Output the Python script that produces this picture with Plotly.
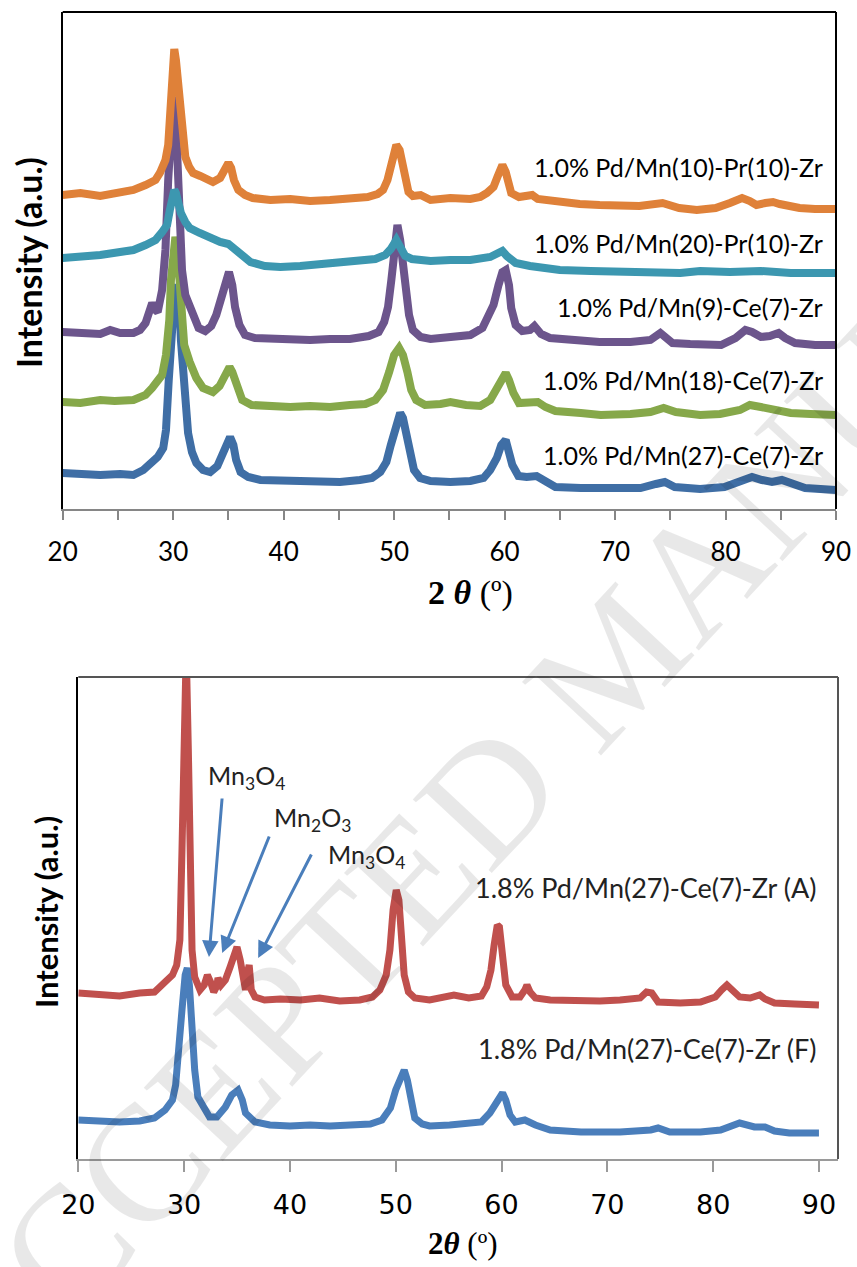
import plotly.graph_objects as go

W, H = 857, 1267

# ---------------- top panel data (2θ, stacked intensity a.u.) ----------------
orange_x = [20.0, 21.6, 23.4, 25.2, 26.4, 27.5, 28.4, 28.8, 29.3, 29.55, 29.8, 30.0, 30.1, 30.25, 30.45, 30.6, 30.8, 31.1, 31.45, 31.8, 32.45, 33.1, 33.6, 34.25, 34.6, 35.0, 35.25, 35.5, 35.9, 36.5, 37.2, 38.8, 40.6, 42.4, 44.2, 46.0, 47.6, 48.5, 49.0, 49.4, 49.65, 49.9, 50.2, 50.5, 50.75, 51.0, 51.3, 51.7, 52.4, 53.3, 55.1, 56.9, 57.8, 58.4, 59.0, 59.35, 59.6, 59.8, 60.1, 60.35, 60.6, 61.3, 61.9, 62.5, 63.0, 63.7, 64.7, 66.8, 68.6, 70.4, 72.2, 74.3, 75.8, 77.4, 79.1, 80.4, 81.5, 82.2, 82.8, 83.6, 84.3, 84.9, 85.8, 86.7, 88.1, 90.0]
orange_y = [628, 632, 626, 634, 638, 648, 658, 672, 698, 728, 818, 898, 920, 898, 848, 798, 738, 704, 684, 672, 666, 658, 654, 662, 678, 692, 682, 658, 638, 628, 622, 618, 620, 616, 618, 620, 624, 630, 638, 658, 684, 714, 728, 718, 694, 658, 634, 626, 628, 618, 622, 620, 624, 632, 644, 664, 682, 688, 674, 648, 632, 624, 624, 628, 620, 618, 614, 610, 608, 606, 606, 612, 602, 598, 602, 612, 622, 616, 608, 612, 614, 610, 604, 602, 600, 600]

teal_x = [20.0, 21.6, 23.4, 25.2, 26.4, 27.5, 28.4, 29.0, 29.45, 29.7, 29.9, 30.1, 30.25, 30.45, 30.7, 31.1, 31.5, 32.4, 33.35, 34.25, 35.0, 35.45, 36.1, 37.0, 38.3, 39.7, 41.5, 43.3, 45.1, 46.9, 48.3, 49.2, 49.7, 50.2, 50.55, 51.0, 51.6, 53.3, 55.1, 56.9, 58.7, 59.35, 59.8, 60.2, 61.0, 62.3, 63.7, 65.0, 67.8, 70.5, 73.2, 75.9, 77.7, 80.4, 83.2, 85.9, 90.0]
teal_y = [502, 504, 508, 514, 518, 528, 538, 554, 568, 598, 628, 638, 632, 608, 592, 574, 562, 552, 542, 534, 530, 522, 506, 494, 486, 484, 486, 490, 492, 496, 500, 508, 520, 538, 526, 506, 500, 496, 498, 498, 504, 510, 516, 506, 492, 486, 482, 478, 476, 474, 472, 472, 476, 474, 476, 472, 472]

purple_x = [20.0, 21.6, 23.4, 24.3, 25.2, 26.4, 27.0, 27.5, 27.8, 28.1, 28.4, 28.6, 29.0, 29.3, 29.55, 29.8, 30.0, 30.2, 30.35, 30.55, 30.8, 31.1, 31.45, 31.8, 32.3, 32.9, 33.45, 33.9, 34.35, 34.7, 35.05, 35.35, 35.6, 36.0, 36.5, 37.4, 38.8, 40.6, 42.4, 44.2, 46.0, 47.7, 48.6, 49.1, 49.45, 49.75, 50.0, 50.3, 50.55, 50.8, 51.1, 51.35, 51.7, 52.4, 53.3, 55.1, 56.9, 58.0, 58.5, 59.0, 59.45, 59.8, 60.1, 60.4, 60.6, 61.0, 61.6, 62.3, 62.7, 63.3, 64.1, 65.9, 68.6, 71.4, 73.2, 74.1, 74.7, 75.2, 76.8, 79.6, 80.9, 81.8, 82.4, 83.2, 84.0, 84.8, 85.4, 86.3, 88.1, 90.0]
purple_y = [354, 352, 350, 358, 352, 352, 358, 372, 398, 412, 398, 394, 438, 518, 658, 778, 824, 798, 698, 578, 478, 428, 408, 388, 362, 356, 366, 388, 418, 448, 474, 448, 404, 368, 348, 342, 340, 338, 338, 340, 340, 346, 354, 374, 404, 458, 528, 568, 538, 478, 428, 388, 358, 344, 340, 344, 348, 362, 382, 408, 448, 474, 478, 448, 402, 368, 356, 358, 366, 350, 342, 338, 334, 334, 338, 352, 342, 332, 330, 328, 342, 358, 354, 344, 346, 352, 342, 332, 328, 328]

green_x = [20.0, 21.6, 23.4, 24.7, 26.4, 27.5, 28.1, 28.6, 29.0, 29.35, 29.65, 29.8, 30.0, 30.2, 30.35, 30.55, 30.7, 31.0, 31.5, 32.1, 32.7, 33.6, 34.2, 34.6, 35.1, 35.35, 35.7, 36.25, 37.1, 38.8, 40.6, 42.4, 44.2, 46.0, 47.4, 48.3, 49.0, 49.55, 50.0, 50.45, 50.8, 51.2, 51.55, 52.0, 52.8, 54.2, 55.1, 56.5, 57.8, 58.7, 59.35, 59.9, 60.1, 60.4, 60.8, 61.3, 62.3, 63.0, 63.7, 64.6, 66.9, 68.7, 71.4, 73.2, 74.4, 75.5, 77.7, 79.5, 81.3, 82.2, 83.2, 84.5, 85.9, 87.7, 90.0]
green_y = [214, 212, 218, 216, 218, 228, 242, 258, 268, 308, 378, 458, 518, 544, 528, 458, 378, 328, 294, 262, 242, 234, 246, 266, 284, 274, 248, 218, 208, 206, 204, 206, 204, 208, 210, 218, 238, 274, 308, 322, 308, 274, 238, 218, 208, 210, 214, 208, 206, 218, 242, 266, 272, 258, 232, 212, 212, 214, 204, 196, 192, 188, 190, 194, 202, 194, 188, 190, 198, 208, 204, 198, 192, 190, 188]

blue_x = [20.0, 21.6, 23.4, 25.2, 26.4, 27.3, 27.9, 28.6, 29.1, 29.35, 29.6, 29.9, 30.15, 30.35, 30.55, 30.7, 31.0, 31.35, 31.7, 32.1, 32.7, 33.35, 34.0, 34.4, 34.8, 35.15, 35.45, 35.7, 36.1, 36.8, 37.9, 39.7, 41.5, 43.3, 45.1, 46.9, 48.0, 48.75, 49.3, 49.7, 50.2, 50.55, 50.8, 51.1, 51.45, 51.8, 52.35, 53.3, 55.1, 56.9, 58.1, 58.7, 59.3, 59.7, 60.1, 60.35, 60.7, 61.25, 62.0, 62.9, 63.7, 64.6, 66.9, 69.6, 72.3, 73.7, 74.5, 75.4, 77.7, 79.9, 81.3, 82.4, 83.3, 84.2, 85.1, 86.0, 87.2, 90.0]
blue_y = [72, 70, 68, 70, 68, 78, 92, 104, 122, 158, 258, 378, 438, 448, 418, 338, 238, 152, 114, 92, 78, 74, 86, 104, 128, 144, 128, 98, 74, 64, 58, 56, 54, 56, 54, 58, 62, 74, 94, 128, 168, 192, 182, 152, 108, 78, 62, 56, 54, 56, 62, 78, 102, 128, 138, 122, 88, 66, 64, 66, 54, 44, 42, 44, 42, 50, 54, 44, 40, 44, 54, 64, 58, 54, 58, 50, 42, 38]

top_labels = ["1.0% Pd/Mn(10)-Pr(10)-Zr", "1.0% Pd/Mn(20)-Pr(10)-Zr",
              "1.0% Pd/Mn(9)-Ce(7)-Zr", "1.0% Pd/Mn(18)-Ce(7)-Zr",
              "1.0% Pd/Mn(27)-Ce(7)-Zr"]
top_label_y = [684, 532, 404, 258, 108]

# ---------------- bottom panel data ----------------
red_x = [20.0, 22.1, 23.9, 25.8, 27.2, 28.2, 28.9, 29.3, 29.6, 29.8, 30.0, 30.1, 30.2, 30.4, 30.55, 30.75, 31.0, 31.5, 31.9, 32.2, 32.5, 32.8, 33.1, 33.2, 33.5, 33.9, 34.35, 34.75, 35.0, 35.3, 35.6, 35.8, 36.0, 36.15, 36.35, 36.7, 37.6, 39.1, 41.0, 42.8, 44.7, 46.6, 47.8, 48.5, 49.1, 49.45, 49.75, 50.05, 50.3, 50.5, 50.8, 51.2, 51.8, 53.2, 54.6, 55.5, 56.9, 58.1, 58.6, 59.0, 59.3, 59.6, 59.8, 60.1, 60.4, 61.0, 61.75, 62.2, 62.4, 62.7, 63.2, 64.6, 66.5, 69.3, 71.2, 73.1, 73.7, 74.2, 74.8, 76.9, 78.8, 80.2, 80.8, 81.3, 81.8, 82.5, 83.5, 84.4, 84.9, 85.8, 87.7, 90.0]
red_y = [332, 330, 326, 332, 334, 354, 368, 388, 438, 618, 918, 1010, 1020, 818, 558, 418, 364, 338, 348, 368, 354, 334, 346, 362, 348, 358, 384, 408, 424, 398, 362, 338, 374, 388, 338, 324, 318, 320, 318, 322, 316, 318, 324, 338, 368, 418, 498, 538, 518, 438, 368, 334, 322, 318, 324, 328, 322, 326, 344, 378, 428, 468, 464, 398, 348, 324, 324, 338, 348, 334, 322, 318, 316, 316, 318, 322, 334, 332, 314, 312, 314, 324, 338, 348, 338, 324, 322, 328, 320, 312, 310, 308]

blueF_x = [20.0, 22.1, 23.9, 25.8, 27.2, 28.2, 28.9, 29.2, 29.5, 29.8, 30.1, 30.3, 30.5, 30.7, 31.0, 31.3, 31.9, 32.4, 33.1, 33.9, 34.5, 35.1, 35.5, 35.8, 36.7, 38.1, 40.0, 41.9, 43.8, 45.7, 47.6, 48.7, 49.5, 50.0, 50.5, 50.8, 51.1, 51.5, 51.8, 52.5, 53.2, 55.1, 57.0, 58.1, 58.9, 59.5, 59.8, 60.1, 60.4, 60.8, 61.3, 62.2, 63.2, 64.6, 67.5, 71.2, 74.1, 74.8, 75.9, 78.8, 80.7, 81.9, 82.5, 83.9, 84.9, 85.8, 87.2, 90.0]
blueF_y = [78, 76, 74, 76, 82, 98, 118, 148, 208, 298, 368, 382, 348, 258, 178, 124, 98, 84, 84, 104, 128, 138, 118, 92, 74, 68, 66, 68, 66, 68, 70, 78, 102, 138, 168, 178, 158, 118, 82, 70, 66, 68, 70, 74, 92, 112, 128, 132, 118, 88, 74, 78, 68, 58, 54, 54, 58, 62, 54, 54, 58, 68, 72, 64, 64, 56, 52, 52]

bottom_labels = ["1.8% Pd/Mn(27)-Ce(7)-Zr (A)", "1.8% Pd/Mn(27)-Ce(7)-Zr (F)"]
bottom_label_y = [544, 222]

phase_labels = ["Mn<sub>3</sub>O<sub>4</sub>", "Mn<sub>2</sub>O<sub>3</sub>", "Mn<sub>3</sub>O<sub>4</sub>"]
phase_text_x = [35.9, 42.1, 47.2]
phase_text_y = [764, 680, 606]
arrow_tail_x = [33.6, 38.1, 42.1]
arrow_tail_y = [724, 648, 612]
arrow_tip_x = [32.35, 33.6, 37.0]
arrow_tip_y = [404, 412, 402]

xticks = [20, 30, 40, 50, 60, 70, 80, 90]

# ---------------- figure ----------------
def px_x(p):
    return p / W

def px_y(p):
    return 1 - p / H

fig = go.Figure()

top_series = [(orange_x, orange_y, '#DF8139'), (teal_x, teal_y, '#3C97B0'),
              (purple_x, purple_y, '#6C558C'), (green_x, green_y, '#86A84A'),
              (blue_x, blue_y, '#3F6EA5')]
for xs, ys, c in reversed(top_series):
    fig.add_trace(go.Scatter(x=xs, y=ys, mode='lines', line=dict(color=c, width=8),
                             xaxis='x', yaxis='y', showlegend=False))

fig.add_trace(go.Scatter(x=blueF_x, y=blueF_y, mode='lines', line=dict(color='#4A7EBB', width=7),
                         xaxis='x2', yaxis='y2', showlegend=False))
fig.add_trace(go.Scatter(x=red_x, y=red_y, mode='lines', line=dict(color='#C0504D', width=7),
                         xaxis='x2', yaxis='y2', showlegend=False))

tick_font_top = dict(family='Lato', size=26, color='black')
tick_font_bot = dict(family='DejaVu Sans', size=27, color='black')

fig.update_layout(
    width=W, height=H, margin=dict(l=0, r=0, t=0, b=0, autoexpand=False),
    paper_bgcolor='white', plot_bgcolor='white',
    xaxis=dict(domain=[px_x(62.7), px_x(836)], range=[20, 90], tickvals=xticks,
               showgrid=False, zeroline=False, showline=True, linecolor='#868686', linewidth=2,
               ticks='outside', ticklen=9, tickwidth=2, tickcolor='#868686',
               minor=dict(dtick=5, ticks='outside', ticklen=9, tickwidth=2, tickcolor='#868686'),
               tickfont=tick_font_top, anchor='y', ticklabelstandoff=10, automargin=False),
    yaxis=dict(domain=[px_y(509), px_y(12)], range=[0, 994], showgrid=False, zeroline=False,
               showline=True, linecolor='black', linewidth=2, showticklabels=False, ticks='',
               anchor='x', automargin=False),
    xaxis2=dict(domain=[px_x(78.3), px_x(838)], range=[20, 91.8], tickvals=xticks,
                showgrid=False, zeroline=False, showline=True, linecolor='#9a9a9a', linewidth=2,
                ticks='outside', ticklen=11, tickwidth=2, tickcolor='#9a9a9a',
                tickfont=tick_font_bot, anchor='y2', ticklabelstandoff=10, automargin=False),
    yaxis2=dict(domain=[px_y(1159), px_y(677)], range=[0, 964], showgrid=False, zeroline=False,
                showline=True, linecolor='black', linewidth=1.5, showticklabels=False, ticks='',
                anchor='x2', automargin=False),
)

# frame edges (top & right)
fig.add_shape(type='line', xref='x domain', yref='y domain', x0=0, x1=1, y0=1, y1=1,
              line=dict(color='black', width=2))
fig.add_shape(type='line', xref='x domain', yref='y domain', x0=1, x1=1, y0=0, y1=1,
              line=dict(color='black', width=2))
fig.add_shape(type='line', xref='x2 domain', yref='y2 domain', x0=0, x1=1, y0=1, y1=1,
              line=dict(color='#555555', width=2))
fig.add_shape(type='line', xref='x2 domain', yref='y2 domain', x0=1, x1=1, y0=0, y1=1,
              line=dict(color='#555555', width=2))

# series labels
for t, y in zip(top_labels, top_label_y):
    fig.add_annotation(x=89.0, y=y, xref='x', yref='y', text=t, showarrow=False,
                       xanchor='right', yanchor='middle',
                       font=dict(family='Lato', size=25, color='black'))
for t, y in zip(bottom_labels, bottom_label_y):
    fig.add_annotation(x=89.9, y=y, xref='x2', yref='y2', text=t, showarrow=False,
                       xanchor='right', yanchor='middle',
                       font=dict(family='Lato', size=27, color='#222222'))

# phase labels and arrows
for t, x, y in zip(phase_labels, phase_text_x, phase_text_y):
    fig.add_annotation(x=x, y=y, xref='x2', yref='y2', text=t, showarrow=False,
                       xanchor='center', yanchor='middle',
                       font=dict(family='Lato', size=25, color='#222222'))
for tx, ty, hx, hy in zip(arrow_tail_x, arrow_tail_y, arrow_tip_x, arrow_tip_y):
    fig.add_annotation(x=hx, y=hy, xref='x2', yref='y2', ax=tx, ay=ty, axref='x2', ayref='y2',
                       text='', showarrow=True, arrowhead=2, arrowsize=1.1, arrowwidth=3,
                       arrowcolor='#4A7EBB', standoff=0)

# axis titles
fig.add_annotation(x=px_x(28), y=px_y(263), xref='paper', yref='paper', text='<b>Intensity (a.u.)</b>',
                   textangle=-90, showarrow=False, xanchor='center', yanchor='middle',
                   font=dict(family='Lato', size=34, color='black'))
fig.add_annotation(x=px_x(46), y=px_y(912), xref='paper', yref='paper', text='<b>Intensity (a.u.)</b>',
                   textangle=-90, showarrow=False, xanchor='center', yanchor='middle',
                   font=dict(family='Lato', size=31, color='black'))
fig.add_annotation(x=px_x(470), y=px_y(593), xref='paper', yref='paper',
                   text='<b>2 <i>θ</i></b> (º)', showarrow=False, xanchor='center', yanchor='middle',
                   font=dict(family='Liberation Serif', size=34, color='black'))
fig.add_annotation(x=px_x(463), y=px_y(1243), xref='paper', yref='paper',
                   text='<b>2<i>θ</i></b> (º)', showarrow=False, xanchor='center', yanchor='middle',
                   font=dict(family='Liberation Serif', size=31, color='black'))

# watermark
fig.add_annotation(x=px_x(615), y=px_y(660), xref='paper', yref='paper', text='ACCEPTED MANUSCRIPT',
                   textangle=-47, showarrow=False, xanchor='center', yanchor='middle',
                   font=dict(family='Liberation Serif', size=165, color='rgba(0,0,0,0.09)'))

fig.write_html("out.html")
